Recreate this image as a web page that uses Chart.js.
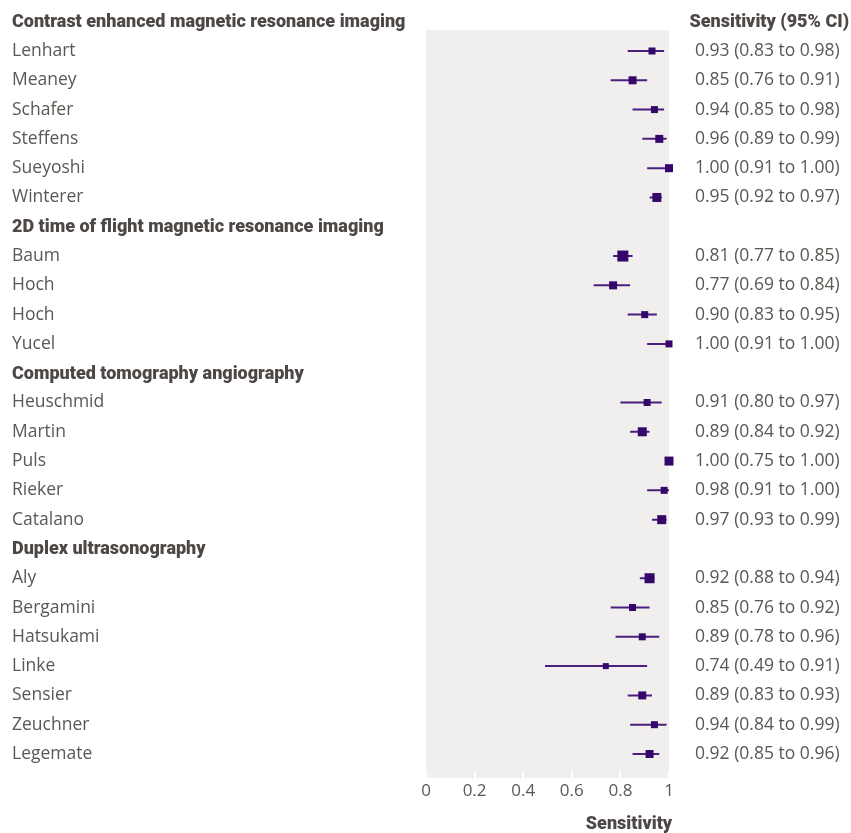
<!DOCTYPE html>
<html>
<head>
<meta charset="utf-8">
<script src="https://cdn.jsdelivr.net/npm/chart.js@4"></script>
<style>
  html, body { margin: 0; padding: 0; background: #fff; }
  #wrap { width: 851px; height: 833px; }
</style>
</head>
<body>
<div id="wrap"><canvas id="myChart" width="851" height="833"></canvas></div>
<script>
const groups = [
    'Contrast enhanced magnetic resonance imaging',
    '2D time of flight magnetic resonance imaging',
    'Computed tomography angiography',
    'Duplex ultrasonography'
];
const studies = ['Lenhart', 'Meaney', 'Schafer', 'Steffens', 'Sueyoshi', 'Winterer',
    'Baum', 'Hoch', 'Hoch', 'Yucel',
    'Heuschmid', 'Martin', 'Puls', 'Rieker', 'Catalano',
    'Aly', 'Bergamini', 'Hatsukami', 'Linke', 'Sensier', 'Zeuchner', 'Legemate'];
const studyGroup = [0, 0, 0, 0, 0, 0, 1, 1, 1, 1, 2, 2, 2, 2, 2, 3, 3, 3, 3, 3, 3, 3];
const sensitivity = [0.93, 0.85, 0.94, 0.96, 1.00, 0.95, 0.81, 0.77, 0.90, 1.00, 0.91, 0.89, 1.00, 0.98, 0.97, 0.92, 0.85, 0.89, 0.74, 0.89, 0.94, 0.92];
const ciLow = [0.83, 0.76, 0.85, 0.89, 0.91, 0.92, 0.77, 0.69, 0.83, 0.91, 0.80, 0.84, 0.75, 0.91, 0.93, 0.88, 0.76, 0.78, 0.49, 0.83, 0.84, 0.85];
const ciHigh = [0.98, 0.91, 0.98, 0.99, 1.00, 0.97, 0.85, 0.84, 0.95, 1.00, 0.97, 0.92, 1.00, 1.00, 0.99, 0.94, 0.92, 0.96, 0.91, 0.93, 0.99, 0.96];
// study weight, shown as the size of the square
const weights = [7, 8, 7, 8, 8, 9, 11, 8, 7, 7, 7, 9, 9, 7, 9, 10, 7, 7, 6, 8, 7, 8];
// the CI whisker is missing for Puls in the original figure
const ciDrawn = [1, 1, 1, 1, 1, 1, 1, 1, 1, 1, 1, 1, 0, 1, 1, 1, 1, 1, 1, 1, 1, 1];
const xTicks = [0, 0.2, 0.4, 0.6, 0.8, 1];

const TEXT = '#5b5753';
const HEAD = '#4d4845';
const BODY_FONT = '17.5px "Open Sans"';
const HEAD_FONT = '900 18px Roboto';

// build the row list: a header row for each group, then its studies
const rows = [];
let lastGroup = -1;
studies.forEach((name, i) => {
    if (studyGroup[i] !== lastGroup) {
        lastGroup = studyGroup[i];
        rows.push({ header: true, text: groups[lastGroup] });
    }
    rows.push({ header: false, text: name, i: i });
});

const points = [];
const ciLines = [];
rows.forEach((r, idx) => {
    if (r.header) return;
    const i = r.i;
    points.push({ x: sensitivity[i], y: idx, r: weights[i] });
    if (ciDrawn[i]) {
        ciLines.push({ x: ciLow[i], y: idx });
        ciLines.push({ x: ciHigh[i], y: idx });
        ciLines.push({ x: null, y: null });
    }
});

function fmt(v) { return v.toFixed(2); }

const forestText = {
    id: 'forestText',
    beforeDatasetsDraw(chart) {
        const ctx = chart.ctx;
        const a = chart.chartArea;
        ctx.save();
        ctx.fillStyle = '#f0efee';
        ctx.fillRect(a.left, a.top, a.right - a.left, a.bottom - a.top);
        // small white tick marks at the bottom of the panel
        ctx.strokeStyle = '#ffffff';
        ctx.lineWidth = 2;
        const xs = chart.scales.x;
        xTicks.forEach(t => {
            const px = Math.round(xs.getPixelForValue(t));
            ctx.beginPath();
            ctx.moveTo(px, a.bottom - 7);
            ctx.lineTo(px, a.bottom);
            ctx.stroke();
        });
        ctx.restore();
    },
    afterDraw(chart) {
        const ctx = chart.ctx;
        const a = chart.chartArea;
        const xs = chart.scales.x;
        const ys = chart.scales.y;
        ctx.save();
        ctx.textBaseline = 'middle';
        rows.forEach((r, idx) => {
            const py = ys.getPixelForValue(idx);
            ctx.textAlign = 'left';
            if (r.header) {
                ctx.font = HEAD_FONT;
                ctx.fillStyle = HEAD;
                ctx.fillText(r.text, 12, py + 1);
            } else {
                ctx.font = BODY_FONT;
                ctx.fillStyle = TEXT;
                ctx.fillText(r.text, 12, py);
                const i = r.i;
                ctx.fillText(fmt(sensitivity[i]) + ' (' + fmt(ciLow[i]) + ' to ' + fmt(ciHigh[i]) + ')', 695, py);
            }
        });
        // x tick labels
        ctx.font = '17px "Open Sans"';
        ctx.fillStyle = TEXT;
        ctx.textAlign = 'center';
        xTicks.forEach(t => ctx.fillText(String(t), xs.getPixelForValue(t), a.bottom + 13));

        ctx.font = HEAD_FONT;
        ctx.fillStyle = HEAD;
        ctx.textAlign = 'right';
        ctx.fillText('Sensitivity (95% CI)', 849, ys.getPixelForValue(0) + 1);
        ctx.textAlign = 'center';
        ctx.fillText('Sensitivity', 629, 824);
        ctx.restore();
    }
};

const ctx = document.getElementById('myChart').getContext('2d');
const myChart = new Chart(ctx, {
    type: 'scatter',
    data: {
        datasets: [{
            label: 'Sensitivity',
            data: points,
            pointStyle: 'rect',
            pointRadius: c => (c.raw ? c.raw.r / Math.SQRT2 : 4),
            pointBackgroundColor: '#35076b',
            pointBorderWidth: 0,
            clip: false
        }, {
            label: '95% CI',
            data: ciLines,
            showLine: true,
            spanGaps: false,
            pointRadius: 0,
            borderColor: '#4a1f7e',
            borderWidth: 2,
            clip: false
        }]
    },
    options: {
        responsive: false,
        animation: false,
        layout: { padding: { left: 426, right: 182, top: 30, bottom: 55 } },
        plugins: {
            legend: { display: false },
            tooltip: { enabled: false }
        },
        scales: {
            x: {
                type: 'linear',
                min: 0,
                max: 1,
                display: false
            },
            y: {
                type: 'linear',
                reverse: true,
                min: 0.283,
                max: 25.82,
                display: false
            }
        }
    },
    plugins: [forestText]
});
</script>
</body>
</html>
